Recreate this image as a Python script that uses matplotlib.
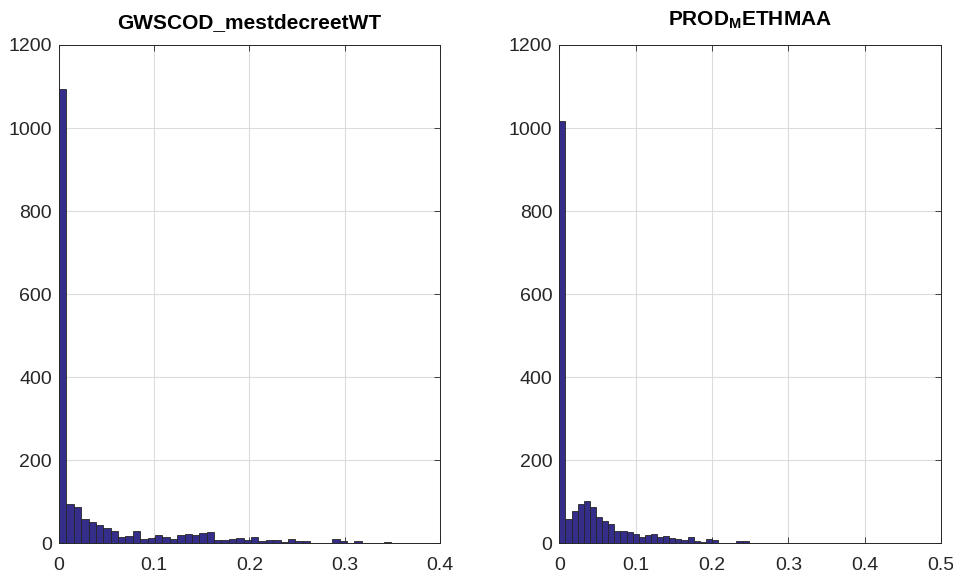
import numpy as np
import matplotlib.pyplot as plt

# histogram counts per bin
gws_counts = [1095, 95, 87, 60, 51, 45, 38, 29, 15, 17, 31, 11, 14, 20, 16,
              11, 21, 23, 21, 25, 27, 8, 8, 11, 14, 9, 16, 6, 9, 9,
              4, 11, 7, 7, 2, 2, 0, 10, 7, 2, 7, 0, 0, 0, 3]
gws_binwidth = 0.349 / 45

prod_counts = [1016, 59, 78, 95, 102, 87, 64, 53, 46, 30, 30, 27, 24, 15, 20,
               22, 15, 18, 14, 10, 8, 15, 6, 4, 10, 9, 2, 2, 2, 7,
               5, 1, 2]
prod_binwidth = 0.008

gws_xticks = [0, 0.1, 0.2, 0.3, 0.4]
gws_xlabels = ['0', '0.1', '0.2', '0.3', '0.4']
prod_xticks = [0, 0.1, 0.2, 0.3, 0.4, 0.5]
prod_xlabels = ['0', '0.1', '0.2', '0.3', '0.4', '0.5']
yticks = [0, 200, 400, 600, 800, 1000, 1200]

plt.rcParams['font.family'] = ['Liberation Sans', 'DejaVu Sans']
plt.rcParams['mathtext.fontset'] = 'custom'
plt.rcParams['mathtext.bf'] = 'Liberation Sans:bold'
plt.rcParams['mathtext.rm'] = 'Liberation Sans'

axcol = '#262626'
facecol = '#352d8a'

fig = plt.figure(figsize=(9.54, 5.75), dpi=100)
ax1 = fig.add_axes([0.0618, 0.0548, 0.3994, 0.867])
ax2 = fig.add_axes([0.5863, 0.0548, 0.4001, 0.867])


def draw_hist(ax, counts, w, xticks, xlabels, title, tpad):
    edges = np.arange(len(counts)) * w
    ax.bar(edges, counts, width=w, align='edge', color=facecol,
           edgecolor=axcol, linewidth=0.6, zorder=3)
    ax.set_xlim(xticks[0], xticks[-1])
    ax.set_ylim(0, 1200)
    ax.set_xticks(xticks)
    ax.set_xticklabels(xlabels)
    ax.set_yticks(yticks)
    ax.grid(True, color='#dcdcdc', linewidth=0.8, zorder=0)
    ax.set_axisbelow(True)
    ax.tick_params(direction='in', length=4, width=0.6, colors=axcol,
                   labelsize=14, top=True, right=True)
    ax.tick_params(axis='x', pad=10)
    ax.tick_params(axis='y', pad=5)
    for s in ax.spines.values():
        s.set_color(axcol)
        s.set_linewidth(0.7)
    ax.set_title(title, fontsize=15, fontweight='bold', color='black', pad=tpad)


draw_hist(ax1, gws_counts, gws_binwidth, gws_xticks, gws_xlabels,
          'GWSCOD_mestdecreetWT', 12)
draw_hist(ax2, prod_counts, prod_binwidth, prod_xticks, prod_xlabels,
          r'PROD$_{\mathbf{M}}$ETHMAA', 14)

plt.savefig('out.png', dpi=100)
